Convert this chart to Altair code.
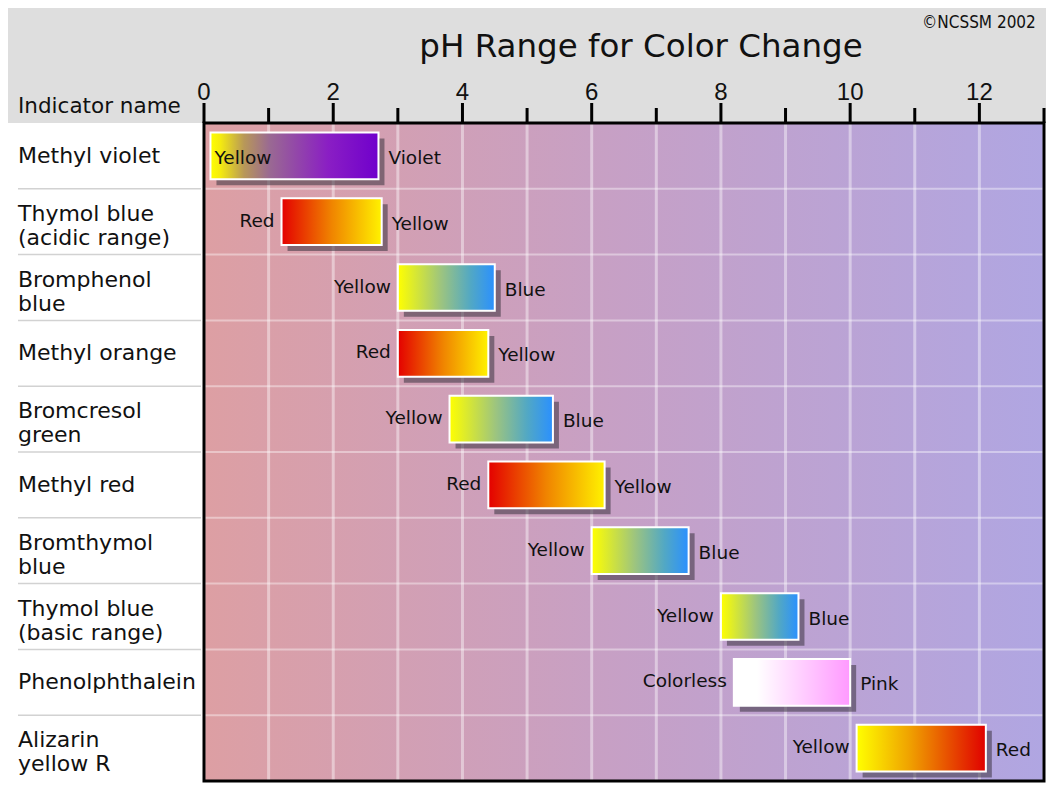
import altair as alt
import pandas as pd

TITLE = "pH Range for Color Change"
COPYRIGHT = "©NCSSM 2002"
COLUMN_HEADER = "Indicator name"

indicators = [
    "Methyl violet",
    "Thymol blue\n(acidic range)",
    "Bromphenol\nblue",
    "Methyl orange",
    "Bromcresol\ngreen",
    "Methyl red",
    "Bromthymol\nblue",
    "Thymol blue\n(basic range)",
    "Phenolphthalein",
    "Alizarin\nyellow R",
]
ph_low = [0.1, 1.2, 3.0, 3.0, 3.8, 4.4, 6.0, 8.0, 8.2, 10.1]
ph_high = [2.7, 2.75, 4.5, 4.4, 5.4, 6.2, 7.5, 9.2, 10.0, 12.1]
color_from = ["Yellow", "Red", "Yellow", "Red", "Yellow", "Red", "Yellow", "Yellow", "Colorless", "Yellow"]
color_to = ["Violet", "Yellow", "Blue", "Yellow", "Blue", "Yellow", "Blue", "Blue", "Pink", "Red"]
label_inside = [True, False, False, False, False, False, False, False, False, False]

ph_ticks = list(range(0, 14))
ph_tick_labels = [0, 2, 4, 6, 8, 10, 12]
ph_domain = [0, 13]

# gradient styles for each colour transition
GRADIENTS = {
    ("Yellow", "Violet"): [(0, "#ffff00"), (0.06, "#f4ea10"), (0.2, "#b89858"), (0.35, "#9a6a92"),
                           (0.7, "#8a1ec4"), (1, "#7000cc")],
    ("Red", "Yellow"): [(0, "#e40000"), (0.5, "#f08400"), (1, "#fff200")],
    ("Yellow", "Blue"): [(0, "#ffff00"), (0.45, "#9cc480"), (0.75, "#52a8c4"), (1, "#2a90ff")],
    ("Colorless", "Pink"): [(0, "#ffffff"), (0.2, "#ffffff"), (1, "#ff99ff")],
    ("Yellow", "Red"): [(0, "#ffff00"), (0.4, "#f0a400"), (1, "#e00000")],
}
BG_STOPS = [(0, "#dd9fa3"), (0.5, "#c6a0c6"), (1, "#b0a6e2")]

W, H = 840, 658
PAD_L, PAD_T = 196, 115
FONT = "DejaVu Sans"


def grad(stops):
    return alt.LinearGradient(
        gradient="linear",
        stops=[alt.GradientStop(offset=o, color=c) for o, c in stops],
        x1=0, x2=1, y1=0, y2=0,
    )


n = len(indicators)
df = pd.DataFrame({
    "name": indicators,
    "low": ph_low,
    "high": ph_high,
    "c_from": color_from,
    "c_to": color_to,
    "inside": label_inside,
    "row": list(range(n)),
})
df["top"] = df["row"] + 0.145
df["bot"] = df["row"] + 0.855
df["mid"] = df["row"] + 0.5

xs = alt.Scale(domain=ph_domain, nice=False, zero=False)
ys = alt.Scale(domain=[0, n], reverse=True, nice=False, zero=False)

one = pd.DataFrame({"k": [0]})
span = pd.DataFrame({"x0": [ph_domain[0]], "x1": [ph_domain[1]]})
ticks_df = pd.DataFrame({"t": ph_ticks})
tick_lbl_df = pd.DataFrame({"t": ph_tick_labels})
bounds_df = pd.DataFrame({"b": list(range(1, n))})

header_bg = alt.Chart(one).mark_rect(color="#dedede").encode(
    x=alt.value(-PAD_L), x2=alt.value(W + 10), y=alt.value(-PAD_T), y2=alt.value(0)
)
bottom_bg = alt.Chart(one).mark_rect(color="#dedede").encode(
    x=alt.value(-PAD_L), x2=alt.value(W + 10), y=alt.value(H + 2), y2=alt.value(H + 14)
)

bg = alt.Chart(span).mark_rect(color=grad(BG_STOPS)).encode(
    x=alt.X("x0:Q", scale=xs, axis=None),
    x2="x1:Q",
    y=alt.value(0), y2=alt.value(H),
)

grid = alt.Chart(ticks_df).mark_rule(color="white", opacity=0.42, strokeWidth=3).encode(
    x=alt.X("t:Q", scale=xs, axis=None), y=alt.value(0), y2=alt.value(H)
)

major_ticks = alt.Chart(ticks_df).transform_filter("datum.t % 2 == 0").mark_rule(
    color="black", strokeWidth=3).encode(
    x=alt.X("t:Q", scale=xs, axis=None), y=alt.value(0), y2=alt.value(-20)
)
minor_ticks = alt.Chart(ticks_df).transform_filter("datum.t % 2 == 1").mark_rule(
    color="black", strokeWidth=3).encode(
    x=alt.X("t:Q", scale=xs, axis=None), y=alt.value(0), y2=alt.value(-15)
)
tick_labels = alt.Chart(tick_lbl_df).mark_text(
    align="center", baseline="alphabetic", font="Liberation Sans", fontSize=24, color="#111").encode(
    x=alt.X("t:Q", scale=xs, axis=None), y=alt.value(-23), text="t:Q"
)

hsep = alt.Chart(bounds_df).mark_rule(color="white", opacity=0.4, strokeWidth=2).encode(
    y=alt.Y("b:Q", scale=ys, axis=None), x=alt.value(0), x2=alt.value(W)
)
lsep = alt.Chart(bounds_df).mark_rule(color="#d2d2d2", strokeWidth=1.5).encode(
    y=alt.Y("b:Q", scale=ys, axis=None), x=alt.value(-186), x2=alt.value(-3)
)

base = alt.Chart(df)

row_style = dict(align="left", baseline="middle", font=FONT, fontSize=22, lineHeight=24,
                 lineBreak="\n", color="#111")
row_labels_1 = base.transform_filter("indexof(datum.name, '\\n') < 0").mark_text(**row_style).encode(
    x=alt.value(-186), y=alt.Y("mid:Q", scale=ys, axis=None), text="name:N"
)
row_labels_2 = base.transform_filter("indexof(datum.name, '\\n') >= 0").mark_text(
    dy=-8, **row_style).encode(
    x=alt.value(-186), y=alt.Y("mid:Q", scale=ys, axis=None), text="name:N"
)

shadows = base.mark_rect(color="#3a3340", opacity=0.55, xOffset=6, x2Offset=6,
                         yOffset=6, y2Offset=6).encode(
    x=alt.X("low:Q", scale=xs, axis=None), x2="high:Q",
    y=alt.Y("top:Q", scale=ys, axis=None), y2="bot:Q",
)

bar_layers = []
for (a, b), stops in GRADIENTS.items():
    bar_layers.append(
        base.transform_filter(f"datum.c_from == '{a}' && datum.c_to == '{b}'")
        .mark_rect(color=grad(stops), stroke="white", strokeWidth=2)
        .encode(
            x=alt.X("low:Q", scale=xs, axis=None), x2="high:Q",
            y=alt.Y("top:Q", scale=ys, axis=None), y2="bot:Q",
        )
    )

lbl_style = dict(baseline="middle", font=FONT, fontSize=18.5, color="#111")
left_lbl = base.transform_filter("!datum.inside").mark_text(
    align="right", dx=-7, dy=-1, **lbl_style).encode(
    x=alt.X("low:Q", scale=xs, axis=None), y=alt.Y("mid:Q", scale=ys, axis=None), text="c_from:N"
)
inside_lbl = base.transform_filter("datum.inside").mark_text(
    align="left", dx=4, dy=2, **lbl_style).encode(
    x=alt.X("low:Q", scale=xs, axis=None), y=alt.Y("mid:Q", scale=ys, axis=None), text="c_from:N"
)
right_lbl = base.mark_text(align="left", dx=10, dy=2, **lbl_style).encode(
    x=alt.X("high:Q", scale=xs, axis=None), y=alt.Y("mid:Q", scale=ys, axis=None), text="c_to:N"
)

border = alt.Chart(span).mark_rect(fillOpacity=0, stroke="black", strokeWidth=3).encode(
    x=alt.X("x0:Q", scale=xs, axis=None), x2="x1:Q", y=alt.value(0), y2=alt.value(H)
)

title = alt.Chart(pd.DataFrame({"t": [TITLE]})).mark_text(
    align="center", baseline="alphabetic", font=FONT, fontSize=32.5, color="#111").encode(
    x=alt.value(437), y=alt.value(-66), text="t:N"
)
copyright_txt = alt.Chart(pd.DataFrame({"t": [COPYRIGHT]})).mark_text(
    align="left", baseline="alphabetic", font="DejaVu Sans Condensed", fontSize=17, color="#111").encode(
    x=alt.value(718), y=alt.value(-95), text="t:N"
)
header_txt = alt.Chart(pd.DataFrame({"t": [COLUMN_HEADER]})).mark_text(
    align="left", baseline="alphabetic", font=FONT, fontSize=21.5, color="#111").encode(
    x=alt.value(-186), y=alt.value(-10), text="t:N"
)

chart = alt.layer(
    header_bg, bottom_bg, bg, grid, hsep, lsep, major_ticks, minor_ticks, tick_labels,
    row_labels_1, row_labels_2, shadows, *bar_layers, left_lbl, inside_lbl, right_lbl,
    border, title, copyright_txt, header_txt,
).properties(
    width=W, height=H,
    padding={"left": PAD_L, "top": PAD_T, "right": 2, "bottom": 2},
    autosize=alt.AutoSizeParams(type="none"),
    background="white",
).configure_view(stroke=None)

chart.save("out.html", embed_options={"renderer": "svg", "actions": False})
